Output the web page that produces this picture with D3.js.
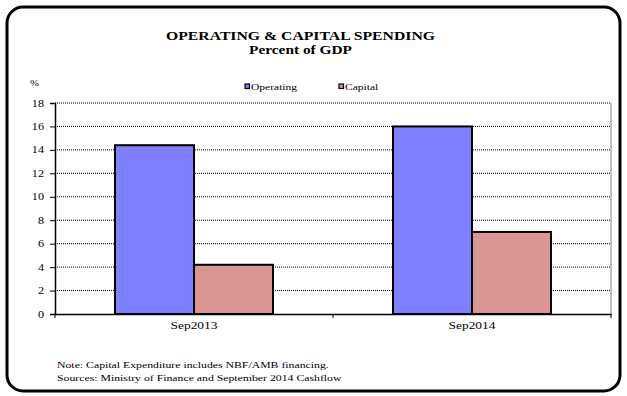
<!DOCTYPE html>
<html><head><meta charset="utf-8">
<script src="https://cdn.jsdelivr.net/npm/d3@7"></script>
<style>body{margin:0;background:#fff}svg{display:block}</style>
</head><body>
<script>
const categories = ["Sep2013", "Sep2014"];
const seriesNames = ["Operating", "Capital"];
const operating = [14.4, 16.0];
const capital = [4.2, 7.0];
const yTicks = [0, 2, 4, 6, 8, 10, 12, 14, 16, 18];
const colors = ["#8080FF", "#D99694"];

(function () {
const FONT = "'Liberation Serif', 'Times New Roman', Times, 'DejaVu Serif', serif";
const STRETCH = 1.28;
const W = 627, H = 396;
const svg = d3.select("body").append("svg").attr("width", W).attr("height", H)
  .style("font-family", FONT);

svg.append("rect").attr("x", 7).attr("y", 7).attr("width", 613).attr("height", 384)
  .attr("rx", 16).attr("fill", "#fff").attr("stroke", "#000").attr("stroke-width", 3);

svg.append("text").attr("x", 300.5).attr("y", 40).attr("text-anchor", "middle")
  .attr("font-size", 12).attr("font-weight", "bold").attr("data-len", 269)
  .text("OPERATING & CAPITAL SPENDING");
svg.append("text").attr("x", 300.5).attr("y", 54).attr("text-anchor", "middle")
  .attr("font-size", 12).attr("font-weight", "bold").attr("data-len", 103)
  .text("Percent of GDP");
svg.append("text").attr("x", 30).attr("y", 86).attr("font-size", 8.5).text("%");

const pLeft = 55, pRight = 611, pTop = 103, pBottom = 314;
const y = d3.scaleLinear().domain([0, 18]).range([pBottom, pTop]);
const x0 = d3.scaleBand().domain(categories).range([pLeft, pRight]).paddingInner(0).paddingOuter(0);
const x1 = d3.scaleBand().domain(seriesNames).range([60, x0.bandwidth() - 60]).padding(0);

svg.append("g").selectAll("line").data(yTicks.filter(d => d > 0)).join("line")
  .attr("x1", pLeft).attr("x2", pRight).attr("y1", d => y(d)).attr("y2", d => y(d))
  .attr("stroke", "#000").attr("stroke-width", 1).attr("stroke-dasharray", "1,1");
svg.append("line").attr("x1", pRight).attr("x2", pRight).attr("y1", pTop).attr("y2", pBottom)
  .attr("stroke", "#808080").attr("stroke-width", 1);

const data = categories.map((c, i) => ({c, vals: [operating[i], capital[i]]}));
const g = svg.append("g").selectAll("g").data(data).join("g")
  .attr("transform", d => `translate(${x0(d.c)},0)`);
g.selectAll("rect").data(d => d.vals.map((v, j) => ({s: seriesNames[j], v, j}))).join("rect")
  .attr("x", d => x1(d.s)).attr("width", x1.bandwidth())
  .attr("y", d => y(d.v)).attr("height", d => pBottom - y(d.v))
  .attr("fill", d => colors[d.j]).attr("stroke", "#000").attr("stroke-width", 2);

const ya = svg.append("g").attr("transform", `translate(${pLeft},0)`)
  .call(d3.axisLeft(y).tickValues(yTicks).tickSize(5).tickPadding(6).tickFormat(d3.format("d")));
ya.attr("font-family", null);
ya.select(".domain").attr("stroke", "#000").attr("stroke-width", 1.5);
ya.selectAll("text").attr("font-size", 9.5).style("font-family", FONT);

const xa = svg.append("g").attr("transform", `translate(0,${pBottom})`)
  .call(d3.axisBottom(x0).tickSize(0).tickPadding(8));
xa.attr("font-family", null);
xa.select(".domain").attr("stroke", "#000").attr("stroke-width", 1.5);
xa.selectAll("text").attr("font-size", 10.5).style("font-family", FONT);
svg.append("g").selectAll("line").data([pLeft, x0(categories[1]), pRight]).join("line")
  .attr("x1", d => d).attr("x2", d => d).attr("y1", pBottom).attr("y2", pBottom + 4)
  .attr("stroke", "#000");

const leg = svg.append("g");
const legX = [245, 339];
seriesNames.forEach((s, i) => {
  leg.append("rect").attr("x", legX[i]).attr("y", 84).attr("width", 4.5).attr("height", 4.5)
    .attr("fill", colors[i]).attr("stroke", "#000").attr("stroke-width", 1.2);
  leg.append("text").attr("x", legX[i] + 6).attr("y", 90).attr("font-size", 9).text(s);
});

svg.append("text").attr("x", 57).attr("y", 368).attr("font-size", 9.2)
  .text("Note: Capital Expenditure includes NBF/AMB financing.");
svg.append("text").attr("x", 57).attr("y", 381).attr("font-size", 9.2)
  .text("Sources: Ministry of Finance and September 2014 Cashflow");

// the reference's text is horizontally stretched; reproduce with textLength
svg.selectAll("text").each(function () {
  const fixed = this.getAttribute("data-len");
  const len = fixed ? +fixed : this.getComputedTextLength() * STRETCH;
  this.setAttribute("textLength", len);
  this.setAttribute("lengthAdjust", "spacingAndGlyphs");
});
})();
</script>
</body></html>
